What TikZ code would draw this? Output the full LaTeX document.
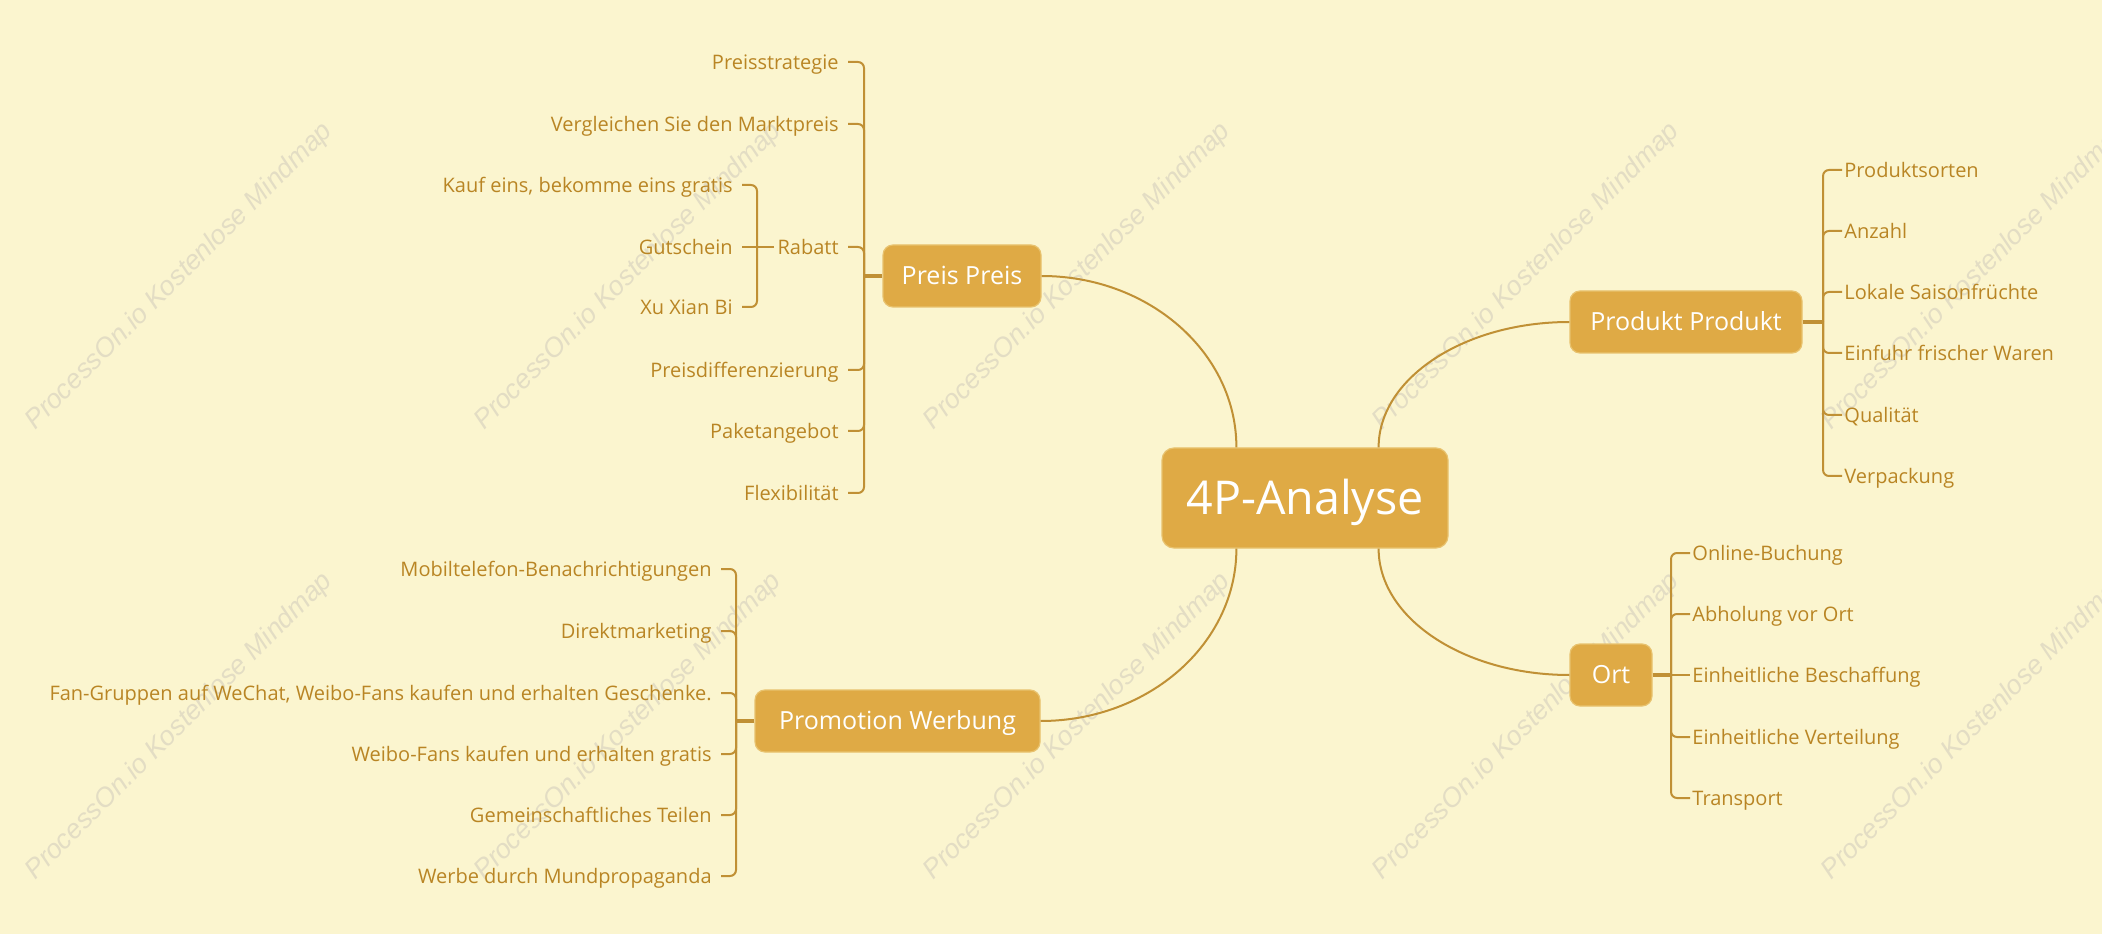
\documentclass[tikz,border=0pt]{standalone}
\usepackage{fontspec}
\setmainfont{Open Sans}
\newfontfamily\wmfont{Liberation Sans}
\usetikzlibrary{calc}
\definecolor{bgc}{HTML}{FBF5CF}
\definecolor{nodec}{HTML}{DFAA45}
\definecolor{nodeb}{HTML}{E8C26E}
\definecolor{txtc}{HTML}{B98524}
\definecolor{linec}{HTML}{C09035}
\definecolor{wmc}{HTML}{E3DDC4}
\newcommand\mmcurve[2]{\draw[curve] (#1) .. controls ($(#1)!0.552!(#1|-#2)$) and ($(#2)!0.552!(#1|-#2)$) .. (#2);}
\begin{document}
\begin{tikzpicture}[x=0.5pt,y=-0.5pt,
  topic/.style={rounded corners=5pt, fill=nodec, draw=nodeb, line width=0.6pt, text=white,
    font=\fontsize{12.5pt}{15pt}\selectfont, inner sep=0pt, minimum height=31pt,
    text height=8.9pt, text depth=0pt, anchor=center},
  central/.style={topic, rounded corners=6pt, font=\fontsize{23.3pt}{28pt}\selectfont,
    minimum width=143pt, minimum height=50pt, text height=16.6pt},
  leaf/.style={text=txtc, font=\fontsize{10pt}{12pt}\selectfont, inner ysep=0pt,
    text height=7.2pt, text depth=0pt},
  leafl/.style={leaf, inner xsep=4.5pt, anchor=east},
  leafr/.style={leaf, inner xsep=1pt, anchor=west},
  curve/.style={draw=linec, line width=1pt},
  stub/.style={draw=linec, line width=1.75pt},
  branch/.style={draw=linec, line width=1pt, rounded corners=3pt},
  wm/.style={text=wmc, font=\wmfont\itshape\fontsize{13.5pt}{16pt}\selectfont,
    rotate=45, anchor=base west, inner sep=0pt}
]
\useasboundingbox (0,0) rectangle (2102,951);
\fill[white] (0,0) rectangle (2102,951);
\fill[bgc] (0,0) rectangle (2102,934);

% watermarks
\foreach \wx in {35,484,933,1382,1831}{
  \foreach \wy in {431,881}{
    \node[wm] (wm-\wx-\wy) at (\wx,\wy) {ProcessOn.io Kostenlose Mindmap};
  }
}

% main topics
\node[central] (c) at (1305,498) {4P-Analyse};
\node[topic, minimum width=79pt] (preis) at (962,276) {Preis Preis};
\node[topic, minimum width=116pt] (prod) at (1686,322) {Produkt Produkt};
\node[topic, minimum width=41pt] (ort) at (1611,675) {Ort};
\node[topic, minimum width=142.5pt] (prom) at (897.5,721) {Promotion Werbung};

% curves from centre
\coordinate (ctl) at ($(c.north west)+(75,0)$);
\coordinate (ctr) at ($(c.north east)+(-70,0)$);
\coordinate (cbl) at ($(c.south west)+(75,0)$);
\coordinate (cbr) at ($(c.south east)+(-70,0)$);
\mmcurve{ctl}{preis.east}
\mmcurve{ctr}{prod.west}
\mmcurve{cbl}{prom.east}
\mmcurve{cbr}{ort.west}

% ---- Preis branch
\coordinate (pv) at (864,276);
\draw[stub] (preis.west) -- (pv);
\node[leafl] (p1) at (848,62) {Preisstrategie};
\node[leafl] (p2) at (848,124) {Vergleichen Sie den Marktpreis};
\node[leafl] (p3) at (848,247) {Rabatt};
\node[leafl] (p4) at (848,370) {Preisdifferenzierung};
\node[leafl] (p5) at (848,431) {Paketangebot};
\node[leafl] (p6) at (848,493) {Flexibilität};
\foreach \n in {p1,p2,p3,p4,p5,p6}{\draw[branch] (pv) |- (\n.east);}
% Rabatt sub-branch
\coordinate (rv) at (757,247);
\draw[draw=linec, line width=1.25pt] ([xshift=3pt]p3.west) -- (rv);
\node[leafl] (r1) at (742,185) {Kauf eins, bekomme eins gratis};
\node[leafl] (r2) at (742,247) {Gutschein};
\node[leafl] (r3) at (742,307) {Xu Xian Bi};
\draw[branch] (rv) |- (r1.east);
\draw[branch] (rv) -- (r2.east);
\draw[branch] (rv) |- (r3.east);

% ---- Produkt branch
\coordinate (dv) at (1823,322);
\draw[stub] (prod.east) -- (dv);
\node[leafr] (d1) at (1842,170) {Produktsorten};
\node[leafr] (d2) at (1842,231) {Anzahl};
\node[leafr] (d3) at (1842,292) {Lokale Saisonfrüchte};
\node[leafr] (d4) at (1842,353) {Einfuhr frischer Waren};
\node[leafr] (d5) at (1842,415) {Qualität};
\node[leafr] (d6) at (1842,476) {Verpackung};
\foreach \n in {d1,d2,d3,d4,d5,d6}{\draw[branch] (dv) |- (\n.west);}

% ---- Ort branch
\coordinate (ov) at (1671,675);
\draw[stub] (ort.east) -- (ov);
\node[leafr] (o1) at (1690,553) {Online-Buchung};
\node[leafr] (o2) at (1690,614) {Abholung vor Ort};
\node[leafr] (o3) at (1690,675) {Einheitliche Beschaffung};
\node[leafr] (o4) at (1690,737) {Einheitliche Verteilung};
\node[leafr] (o5) at (1690,798) {Transport};
\foreach \n in {o1,o2,o4,o5}{\draw[branch] (ov) |- (\n.west);}
\draw[branch] (ov) -- (o3.west);

% ---- Promotion branch
\coordinate (mv) at (736,721);
\draw[stub] (prom.west) -- (mv);
\node[leafl] (m1) at (721,569) {Mobiltelefon-Benachrichtigungen};
\node[leafl] (m2) at (721,631) {Direktmarketing};
\node[leafl] (m3) at (721,693) {Fan-Gruppen auf WeChat, Weibo-Fans kaufen und erhalten Geschenke.};
\node[leafl] (m4) at (721,754) {Weibo-Fans kaufen und erhalten gratis};
\node[leafl] (m5) at (721,815) {Gemeinschaftliches Teilen};
\node[leafl] (m6) at (721,876) {Werbe durch Mundpropaganda};
\foreach \n in {m1,m2,m3,m4,m5,m6}{\draw[branch] (mv) |- (\n.east);}
\end{tikzpicture}
\end{document}
